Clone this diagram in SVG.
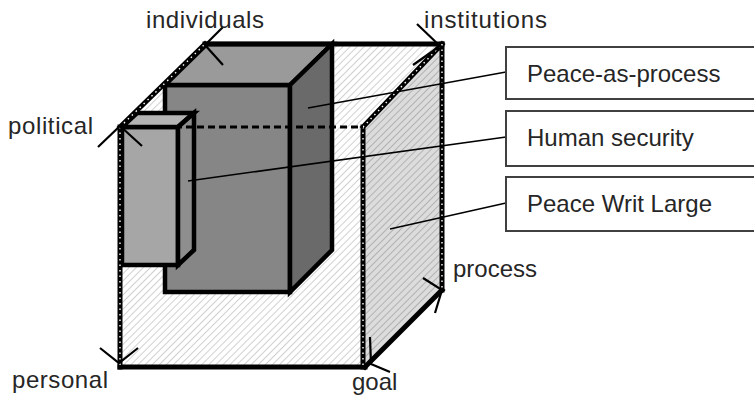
<svg xmlns="http://www.w3.org/2000/svg" width="754" height="397" viewBox="0 0 754 397">
<defs>
<pattern id="hatchLight" patternUnits="userSpaceOnUse" width="5" height="5" patternTransform="rotate(45)">
<rect width="5" height="5" fill="#ffffff"/>
<line x1="0" y1="0" x2="0" y2="5" stroke="#c4c4c4" stroke-width="1.6"/>
</pattern>
<pattern id="hatchDark" patternUnits="userSpaceOnUse" width="5" height="5" patternTransform="rotate(45)">
<rect width="5" height="5" fill="#dcdcdc"/>
<line x1="0" y1="0" x2="0" y2="5" stroke="#a8a8a8" stroke-width="1.6"/>
</pattern>
</defs>
<style>
.face{stroke:#000;stroke-width:4.5;stroke-linejoin:miter}
.edge{stroke:#000;stroke-width:5;fill:none;stroke-linecap:square}
.dots{stroke:#fff;stroke-width:1.4;fill:none;stroke-dasharray:1.5 4}
.dash{stroke:#000;stroke-width:3;fill:none;stroke-dasharray:7 4}
.lead{stroke:#000;stroke-width:1.5;fill:none}
.tick{stroke:#000;stroke-width:2.2;fill:none}
.lbl{font-family:"Liberation Sans",Arial,sans-serif;font-size:24px;fill:#262626}
.box{fill:#fff;stroke:#404040;stroke-width:2}
</style>

<g id="large-cube">
<polygon points="120,127 205,44 442,44 363,127" fill="url(#hatchLight)"/>
<polygon points="363,127 442,44 442,290 363,367" fill="url(#hatchDark)"/>
<rect x="120" y="127" width="243" height="240" fill="url(#hatchLight)"/>
</g>

<g id="peace-as-process-cube">
<polygon class="face" points="165,85 290,85 290,292 165,292" fill="#868686"/>
<polygon class="face" points="165,85 207,44 332,44 290,85" fill="#9a9a9a"/>
<polygon class="face" points="290,85 332,44 332,250 290,292" fill="#6a6a6a"/>
</g>

<g id="human-security-cube">
<polygon class="face" points="122,127 178,127 178,265 122,265" fill="#a6a6a6"/>
<polygon class="face" points="122,127 137,113 194,113 178,127" fill="#b4b4b4"/>
<polygon class="face" points="178,127 194,113 194,250 178,265" fill="#8e8e8e"/>
</g>

<g id="large-cube-edges">
<line class="edge" x1="205" y1="44" x2="442" y2="44"/>
<line class="edge" x1="120" y1="367" x2="365" y2="367"/>
<line class="edge" x1="365" y1="367" x2="442" y2="290"/>
<path class="edge" d="M120,127 L205,44 M442,44 L442,290 M363,127 L442,44 M363,127 L363,367 M120,127 L120,367"/>
<path class="dots" d="M120,127 L205,44 M442,44 L442,290 M363,127 L442,44 M363,127 L363,367 M120,127 L120,367"/>
<line class="dash" x1="120" y1="127" x2="363" y2="127"/>
</g>

<g id="connectors">
<line class="lead" x1="308" y1="108" x2="506" y2="72"/>
<line class="lead" x1="188" y1="181" x2="506" y2="137"/>
<line class="lead" x1="390" y1="229" x2="506" y2="203"/>
<polyline class="tick" points="223,27 205,45 223,65"/>
<polyline class="tick" points="417,24 440,46 413,65"/>
<polyline class="tick" points="98,147 120,126 142,146"/>
<polyline class="tick" points="100,348 119,363 138,348"/>
<polyline class="tick" points="370,337 371,364 390,372"/>
<polyline class="tick" points="423,278 442,290 435,313"/>
</g>

<g id="axis-labels">
<text class="lbl" x="146" y="28" textLength="118" lengthAdjust="spacing">individuals</text>
<text class="lbl" x="424" y="28" textLength="123" lengthAdjust="spacing">institutions</text>
<text class="lbl" x="8" y="134" textLength="85" lengthAdjust="spacing">political</text>
<text class="lbl" x="12" y="388" textLength="96" lengthAdjust="spacing">personal</text>
<text class="lbl" x="352" y="390">goal</text>
<text class="lbl" x="453" y="277">process</text>
</g>

<g id="box-peace-as-process">
<rect class="box" x="506" y="47" width="260" height="52"/>
<text class="lbl" x="527" y="82">Peace-as-process</text>
</g>
<g id="box-human-security">
<rect class="box" x="506" y="111" width="260" height="55"/>
<text class="lbl" x="527" y="146">Human security</text>
</g>
<g id="box-peace-writ-large">
<rect class="box" x="506" y="177" width="260" height="54"/>
<text class="lbl" x="527" y="212">Peace Writ Large</text>
</g>
</svg>
